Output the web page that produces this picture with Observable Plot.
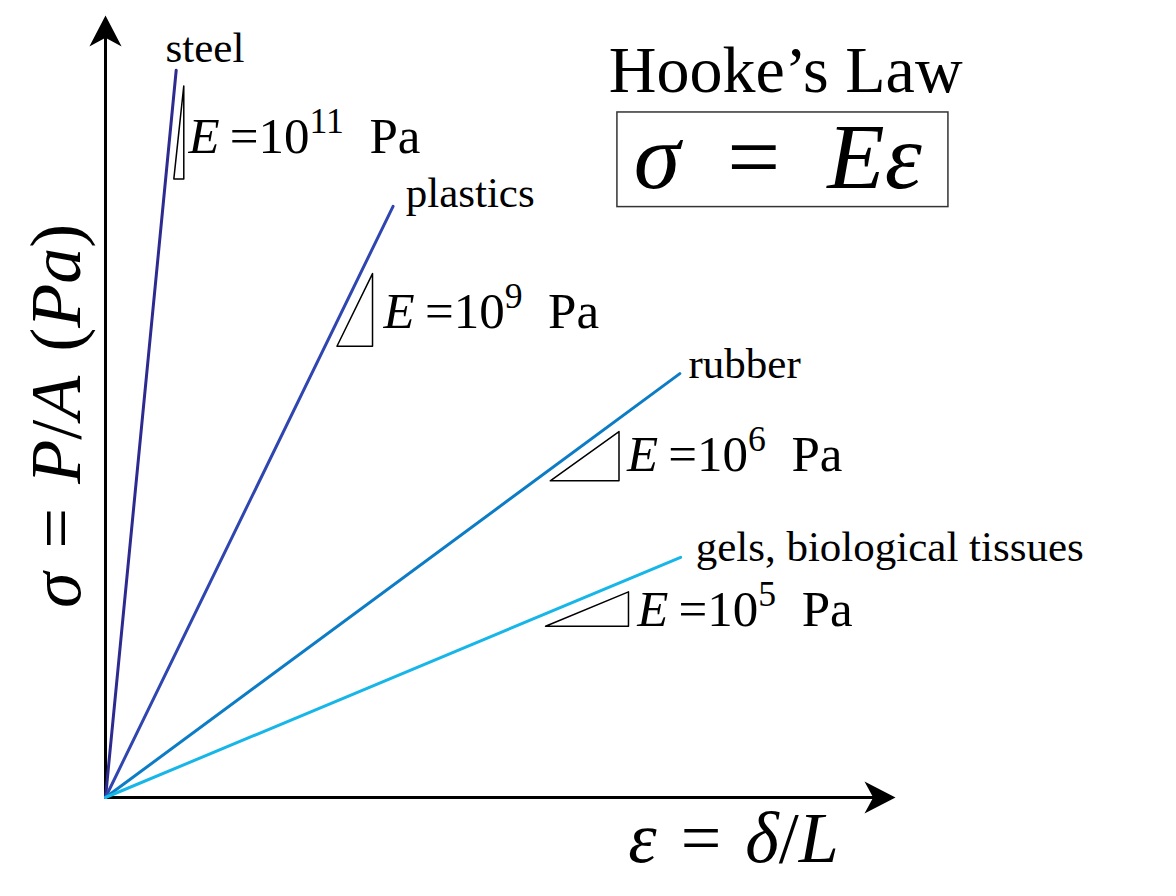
<!DOCTYPE html>
<html><head><meta charset="utf-8">
<script src="https://cdn.jsdelivr.net/npm/d3@7"></script>
<script src="https://cdn.jsdelivr.net/npm/@observablehq/plot@0.6"></script>
<style>body{margin:0;background:#fff}</style>
</head><body><div id="chart"></div>
<script>
// ---- data (strain and stress in arbitrary schematic units, 0..10) ----
const materials   = ["steel", "plastics", "rubber", "gels, biological tissues"];
const lineColors  = ["#2d2b8f", "#2f45b0", "#0d7cc6", "#17b6e8"];
const endStrain   = [0.895, 3.64, 7.27, 7.28];
const endStress   = [9.30, 7.56, 5.42, 3.07];
const moduli      = ["10^11^", "10^9^", "10^6^", "10^5^"];
// slope triangles
const triLeft     = [0.865, 2.93, 5.63, 5.57];
const triRight    = [0.991, 3.38, 6.50, 6.62];
const triBottom   = [7.91, 5.77, 4.05, 2.19];
const triTop      = [9.10, 6.70, 4.68, 2.63];
// label anchors
const nameX       = [0.76, 3.80, 7.38, 7.47];
const nameY       = [9.40, 7.55, 5.36, 3.03];
const modX        = [1.05, 3.52, 6.60, 6.73];
const modY        = [8.24, 6.01, 4.18, 2.19];
// axes
const axisMax     = 10;
const shaftEnd    = 9.8;
const xAxisLabel  = "*ε*\u2004=\u2004*δ*/*L*";
const yAxisLabel  = "*σ*\u2004=\u2004*P*/*A*\u2004(*Pa*)";
const xLabelPos   = [7.95, -0.83];
const yLabelPos   = [-0.32, 4.88];
// title block
const titleText   = "Hooke’s Law";
const titlePos    = [8.61, 9.02];
const lawText     = "*σ*\u2002=\u2002*Eε*";
const lawPos      = [8.51, 7.80];
const lawBox      = [6.48, 10.67, 7.55, 8.76]; // x1, x2, y1, y2

// ---- derived tables ----
const lines = materials.flatMap((m, i) => [
  {m, x: 0, y: 0, c: lineColors[i]},
  {m, x: endStrain[i], y: endStress[i], c: lineColors[i]}
]);
const tris = materials.flatMap((m, i) => [
  {m, x: triLeft[i], y: triBottom[i]},
  {m, x: triRight[i], y: triBottom[i]},
  {m, x: triRight[i], y: triTop[i]},
  {m, x: triLeft[i], y: triBottom[i]}
]);
const names = materials.map((m, i) => ({t: m, x: nameX[i], y: nameY[i]}));
const mods = materials.map((m, i) => ({t: `*E*\u2009=${moduli[i]}\u00a0\u00a0Pa`, x: modX[i], y: modY[i]}));

const arrowUp = {draw(ctx, size) {
  const L = Math.sqrt(size / Math.PI);
  ctx.moveTo(0, 0); ctx.lineTo(0.52 * L, L); ctx.lineTo(0, 0.72 * L); ctx.lineTo(-0.52 * L, L); ctx.closePath();
}};
const arrowRight = {draw(ctx, size) {
  const L = Math.sqrt(size / Math.PI);
  ctx.moveTo(0, 0); ctx.lineTo(-L, 0.52 * L); ctx.lineTo(-0.72 * L, 0); ctx.lineTo(-L, -0.52 * L); ctx.closePath();
}};

const serif = "'Liberation Serif', 'DejaVu Serif', serif";

const chart = Plot.plot({
  width: 1176, height: 896,
  margin: 0,
  style: {background: "white", fontFamily: serif, overflow: "visible"},
  x: {domain: [0, axisMax], range: [105, 895], axis: null},
  y: {domain: [0, axisMax], range: [797, 15], axis: null},
  color: {type: "identity"},
  marks: [
    // axes
    Plot.link([{x1: 0, y1: 0, x2: shaftEnd, y2: 0}, {x1: 0, y1: 0, x2: 0, y2: shaftEnd}],
      {x1: "x1", y1: "y1", x2: "x2", y2: "y2", stroke: "black", strokeWidth: 3}),
    Plot.dot([{x: 0, y: axisMax}], {x: "x", y: "y", symbol: arrowUp, r: 31, fill: "black", stroke: "none"}),
    Plot.dot([{x: axisMax, y: 0}], {x: "x", y: "y", symbol: arrowRight, r: 31, fill: "black", stroke: "none"}),
    // material lines
    Plot.line(lines, {x: "x", y: "y", z: "m", stroke: "c", strokeWidth: 3}),
    // slope triangles
    Plot.line(tris, {x: "x", y: "y", z: "m", stroke: "black", strokeWidth: 1.5, fill: "none"}),
    // labels
    Plot.text(names, {x: "x", y: "y", text: "t", textAnchor: "start", lineAnchor: "bottom", fontSize: 43, fill: "black"}),
    Plot.text(mods, {x: "x", y: "y", text: "t", textAnchor: "start", lineAnchor: "bottom", fontSize: 51, fill: "black"}),
    Plot.text([{t: xAxisLabel, x: xLabelPos[0], y: xLabelPos[1]}], {x: "x", y: "y", text: "t", textAnchor: "middle", lineAnchor: "bottom", fontSize: 72, fill: "black"}),
    Plot.text([{t: yAxisLabel, x: yLabelPos[0], y: yLabelPos[1]}], {x: "x", y: "y", text: "t", rotate: -90, textAnchor: "middle", lineAnchor: "bottom", fontSize: 72, fill: "black"}),
    // title block
    Plot.text([{t: titleText, x: titlePos[0], y: titlePos[1]}], {x: "x", y: "y", text: "t", textAnchor: "middle", lineAnchor: "bottom", fontSize: 66, fill: "black"}),
    Plot.rect([{x1: lawBox[0], x2: lawBox[1], y1: lawBox[2], y2: lawBox[3]}], {x1: "x1", x2: "x2", y1: "y1", y2: "y2", fill: "none", stroke: "#333", strokeWidth: 1.5}),
    Plot.text([{t: lawText, x: lawPos[0], y: lawPos[1]}], {x: "x", y: "y", text: "t", textAnchor: "middle", lineAnchor: "bottom", fontSize: 94, fill: "black"})
  ]
});

// rich text: *italic*, ^superscript^
d3.select(chart).selectAll("text").each(function() {
  const t = this.textContent;
  if (!/[*^]/.test(t)) return;
  const el = d3.select(this);
  el.text(null);
  t.split(/(\*[^*]+\*|\^[^^]+\^)/).filter(s => s.length).forEach(p => {
    if (p[0] === "*") el.append("tspan").attr("font-style", "italic").text(p.slice(1, -1));
    else if (p[0] === "^") el.append("tspan").attr("baseline-shift", "super").attr("font-size", "70%").text(p.slice(1, -1));
    else el.append("tspan").text(p);
  });
});

document.getElementById("chart").append(chart);
</script>
</body></html>
